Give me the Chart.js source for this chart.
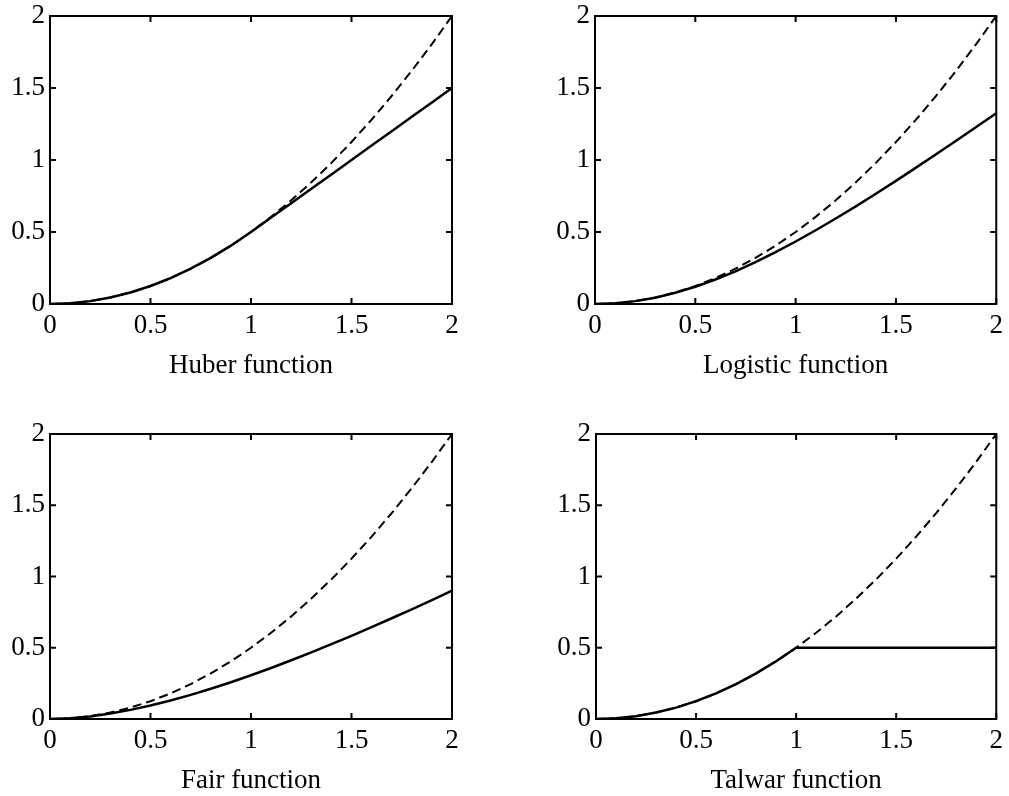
<!DOCTYPE html>
<html>
<head>
<meta charset="utf-8">
<script src="https://cdn.jsdelivr.net/npm/chart.js@4.4.1/dist/chart.umd.min.js"></script>
<style>
  body { margin: 0; background: #fff; overflow: hidden; }
  canvas { position: absolute; }
</style>
</head>
<body>
<canvas id="huber" width="504" height="398" style="left:0px;top:-6px"></canvas>
<canvas id="logistic" width="505" height="398" style="left:504px;top:-6px"></canvas>
<canvas id="fair" width="504" height="398" style="left:0px;top:400px"></canvas>
<canvas id="talwar" width="505" height="398" style="left:504px;top:400px"></canvas>
<script>
// values (x from 0 to 2)
const xValues = [0, 0.1, 0.2, 0.3, 0.4, 0.5, 0.6, 0.7, 0.8, 0.9, 1.0,
                 1.1, 1.2, 1.3, 1.4, 1.5, 1.6, 1.7, 1.8, 1.9, 2.0];
// dashed reference curve, same in every panel
const quadValues = [0, 0.005, 0.02, 0.045, 0.08, 0.125, 0.18, 0.245, 0.32, 0.405, 0.5,
                    0.605, 0.72, 0.845, 0.98, 1.125, 1.28, 1.445, 1.62, 1.805, 2.0];
const huberValues = [0, 0.005, 0.02, 0.045, 0.08, 0.125, 0.18, 0.245, 0.32, 0.405, 0.5,
                     0.6, 0.7, 0.8, 0.9, 1.0, 1.1, 1.2, 1.3, 1.4, 1.5];
const logisticValues = [0, 0.005, 0.02, 0.044, 0.078, 0.12, 0.17, 0.227, 0.291, 0.36, 0.434,
                        0.512, 0.594, 0.678, 0.766, 0.855, 0.947, 1.04, 1.134, 1.229, 1.325];
const fairValues = [0, 0.005, 0.018, 0.038, 0.064, 0.095, 0.13, 0.169, 0.212, 0.258, 0.307,
                    0.358, 0.412, 0.467, 0.525, 0.584, 0.645, 0.707, 0.77, 0.835, 0.901];
const talwarValues = [0, 0.005, 0.02, 0.045, 0.08, 0.125, 0.18, 0.245, 0.32, 0.405, 0.5,
                      0.5, 0.5, 0.5, 0.5, 0.5, 0.5, 0.5, 0.5, 0.5, 0.5];
const tickValues = [0, 0.5, 1, 1.5, 2];
const tickLabels = ['0', '0.5', '1', '1.5', '2'];

const FONT = "'Liberation Serif', 'Times New Roman', serif";

// box round the plot with inward ticks on all four sides
const boxTicks = {
  id: 'boxTicks',
  afterDatasetsDraw(chart) {
    const ctx = chart.ctx;
    const a = chart.chartArea;
    const xs = chart.scales.x, ys = chart.scales.y;
    const len = 6;
    ctx.save();
    ctx.strokeStyle = '#000';
    ctx.lineWidth = 2;
    ctx.strokeRect(a.left, a.top, a.right - a.left, a.bottom - a.top);
    ctx.beginPath();
    tickValues.forEach(v => {
      const px = xs.getPixelForValue(v);
      ctx.moveTo(px, a.bottom); ctx.lineTo(px, a.bottom - len);
      ctx.moveTo(px, a.top); ctx.lineTo(px, a.top + len);
      const py = ys.getPixelForValue(v);
      ctx.moveTo(a.left, py); ctx.lineTo(a.left + len, py);
      ctx.moveTo(a.right, py); ctx.lineTo(a.right - len, py);
    });
    ctx.stroke();
    ctx.restore();
  }
};

function points(vals) {
  return xValues.map((x, i) => ({x: x, y: vals[i]}));
}

function tickText(v) {
  const i = tickValues.indexOf(v);
  return i >= 0 ? tickLabels[i] : '';
}

function makePanel(id, title, vals, pad, xh) {
  new Chart(document.getElementById(id), {
    type: 'line',
    data: {
      datasets: [
        {
          data: points(quadValues),
          borderColor: '#000',
          borderWidth: 2,
          borderDash: [9, 5],
          pointRadius: 0,
          tension: 0
        },
        {
          data: points(vals),
          borderColor: '#000',
          borderWidth: 2.5,
          pointRadius: 0,
          tension: 0
        }
      ]
    },
    options: {
      responsive: false,
      animation: false,
      layout: {padding: pad},
      plugins: {legend: {display: false}, tooltip: {enabled: false}},
      scales: {
        x: {
          type: 'linear', min: 0, max: 2,
          afterBuildTicks: s => { s.ticks = tickValues.map(v => ({value: v})); },
          afterFit: s => { s.height = xh; },
          grid: {display: false, drawTicks: false},
          border: {display: false},
          ticks: {color: '#000', padding: 6, font: {family: FONT, size: 27}, maxRotation: 0,
                  callback: v => tickText(v)},
          title: {display: true, text: title, color: '#000', padding: {top: 0, bottom: 0},
                  font: {family: FONT, size: 27}}
        },
        y: {
          type: 'linear', min: 0, max: 2,
          afterBuildTicks: s => { s.ticks = tickValues.map(v => ({value: v})); },
          afterFit: s => { s.width = 50; },
          grid: {display: false, drawTicks: false},
          border: {display: false},
          ticks: {color: '#000', padding: 5, font: {family: FONT, size: 27},
                  callback: v => tickText(v)}
        }
      }
    },
    plugins: [boxTicks]
  });
}

makePanel('huber', 'Huber function', huberValues, {left: 0, right: 52, top: 22, bottom: 10}, 78);
makePanel('logistic', 'Logistic function', logisticValues, {left: 41, right: 12, top: 22, bottom: 10}, 78);
makePanel('fair', 'Fair function', fairValues, {left: 0, right: 52, top: 34, bottom: 1}, 78);
makePanel('talwar', 'Talwar function', talwarValues, {left: 42, right: 11, top: 34, bottom: 1}, 78);
</script>
</body>
</html>
